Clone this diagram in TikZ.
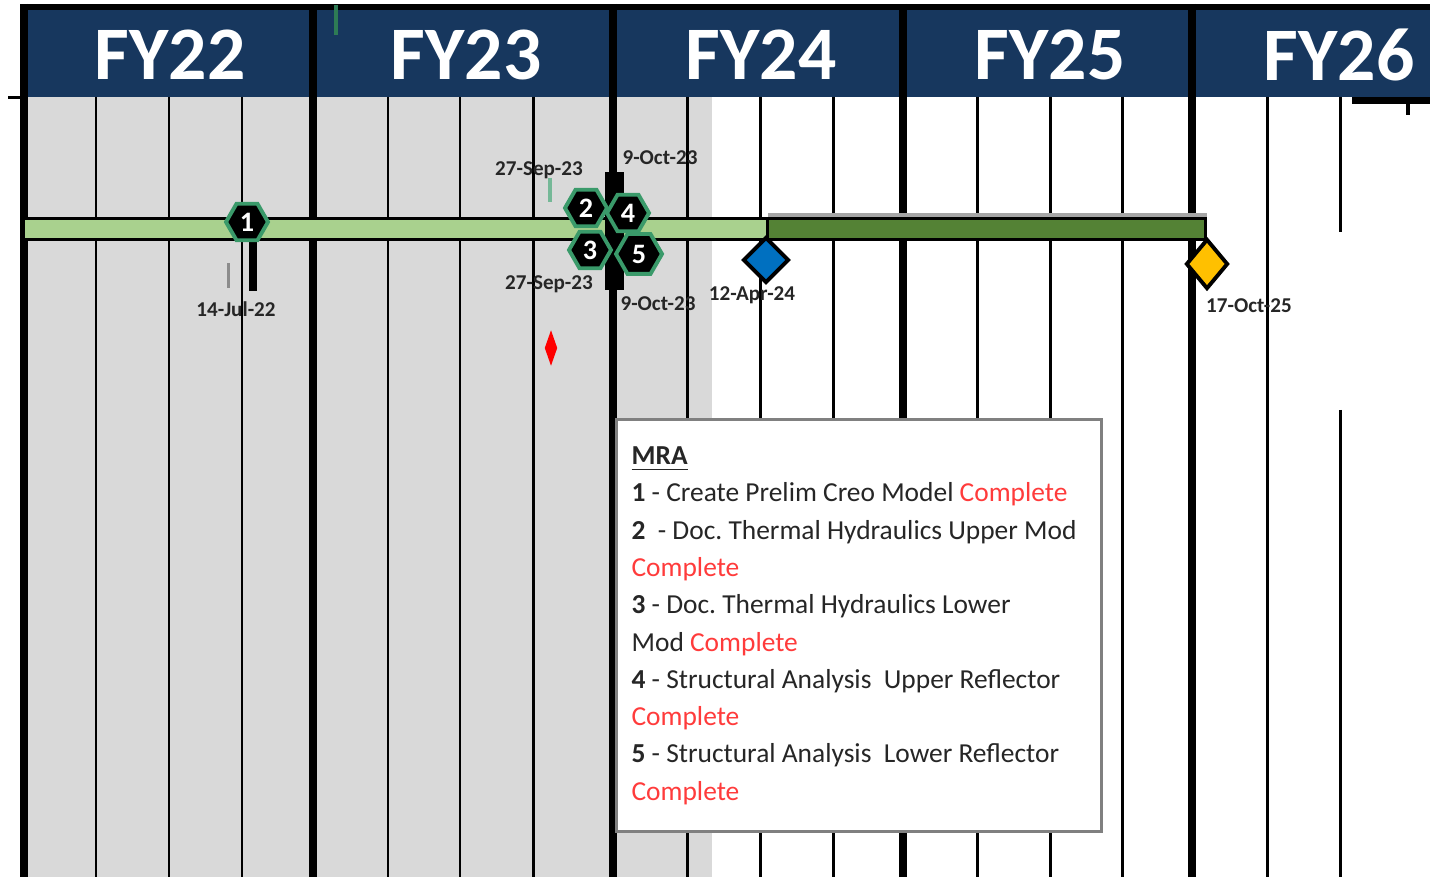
\documentclass[tikz,border=0pt]{standalone}
\usepackage{fontspec}
\setmainfont{Carlito}
\usepackage{tikz}
\usetikzlibrary{shapes.geometric}
\usepackage{xcolor}
\definecolor{fyNavy}{HTML}{17375E}
\definecolor{fyGrey}{HTML}{D9D9D9}
\definecolor{barLight}{HTML}{A9D18E}
\definecolor{barDark}{HTML}{548235}
\definecolor{msGreen}{HTML}{3A9A6A}
\definecolor{msBlue}{HTML}{0070C0}
\definecolor{msGold}{HTML}{FFC000}
\definecolor{doneRed}{HTML}{FF3B3B}
\definecolor{lblText}{HTML}{262626}
\frenchspacing
\tikzset{
    fyhead/.style={
        text=white,font=\fontsize{21.5}{22}\selectfont\bfseries
    },
    majorline/.style={line width=2pt,draw=black},
    minorline/.style={line width=0.85pt,draw=black},
    hexmark/.style={
        regular polygon,regular polygon sides=6,fill=black,
        draw=msGreen,line width=1.1pt,text=white,inner sep=0pt,
        minimum size=#1,font=\fontsize{8}{8}\selectfont\bfseries
    },
    hexmark/.default=0.42cm,
    datelbl/.style={
        font=\fontsize{6}{6}\selectfont\bfseries,text=lblText,inner sep=0pt
    },
    gate/.style={
        diamond,draw=black,line width=1.1pt,fill=#1,inner sep=0pt,
        minimum width=0.46cm,minimum height=0.46cm
    },
    gate/.default=msBlue
}

\begin{document}
\begin{tikzpicture}[x=0.01cm,y=-0.01cm]
\useasboundingbox (0,0) rectangle (1445,877);

% shaded past
\fill[fyGrey] (24,97) rectangle (712,877);

% header band
\fill[fyNavy] (24,4) rectangle (1430,97);
\fill[black] (21,4) rectangle (1430,10);

% quarter and year lines
\draw[minorline] (96,97)--(96,877) (169,97)--(169,877) (242,97)--(242,877)
    (388,97)--(388,877) (460,97)--(460,877) (533,97)--(533,877)
    (687,97)--(687,877) (760,97)--(760,877) (833,97)--(833,877)
    (977,97)--(977,877) (1050,97)--(1050,877) (1122,97)--(1122,877)
    (1267,97)--(1267,877) (1340,97)--(1340,232) (1340,410)--(1340,877);
\draw[majorline] (24,4)--(24,877) (313,4)--(313,877) (613,4)--(613,877)
    (903,4)--(903,877) (1192,4)--(1192,877);
\draw[line width=0.8pt] (8,97.5)--(24,97.5);
\fill[black] (1352,97) rectangle (1430,104);
\draw[line width=1pt] (1408,104)--(1408,115);
\draw[msGreen!80!black,line width=1pt] (336,5)--(336,35);

\node[fyhead] (fy22) at (170,55) {FY22};
\node[fyhead] (fy23) at (466,55) {FY23};
\node[fyhead] (fy24) at (761,55) {FY24};
\node[fyhead] (fy25) at (1050,55) {FY25};
\node[fyhead] (fy26) at (1339,55) {FY26};

% schedule bar
\fill[black!35] (768,213) rectangle (1207,219);
\draw[black,line width=0.85pt,fill=barLight] (24,219) rectangle (767,240);
\draw[black,line width=0.85pt,fill=barDark] (767,219) rectangle (1205,240);

% milestone 1
\fill[black!45] (227,263) rectangle (230,288);
\fill[black] (249,238) rectangle (257,291);
\node[hexmark] (m1) at (247,222) {1};
\node[datelbl] (d1) at (236,309) {14-Jul-22};

% milestones 2-5
\fill[black] (605,172) rectangle (624,290);
\draw[msGreen!70,line width=1pt] (550,178)--(550,202);
\node[hexmark] (m2) at (586,208) {2};
\node[hexmark] (m4) at (628,213) {4};
\node[hexmark] (m3) at (590,250) {3};
\node[hexmark=0.46cm] (m5) at (639,254) {5};
\node[datelbl] (d2) at (539,170) {27-Sep-23};
\node[datelbl] (d4) at (660,158) {9-Oct-23};
\node[datelbl] (d3) at (549,284) {27-Sep-23};
\node[datelbl] (d5) at (658,304) {9-Oct-23};

% gates
\node[gate] (g1) at (766,260) {};
\node[gate=msGold,minimum width=0.42cm,minimum height=0.5cm] (g2) at (1207,264) {};
\node[datelbl] (dg1) at (752,295) {12-Apr-24};
\node[datelbl] (dg2) at (1249,306) {17-Oct-25};

\node[diamond,fill=red,inner sep=0pt,minimum width=0.13cm,
minimum height=0.36cm] (now) at (551,348) {};

% legend
\node[
draw=black!50,line width=0.9pt,fill=white,anchor=north west,
text width=4.55cm,inner xsep=0.15cm,minimum height=4.12cm,align=flush left,
font=\fontsize{7.8}{10.6}\selectfont,text=black!85
] (mra) at (615,418)
{
\underline{\textbf{MRA}}\\
\textbf{1} - Create Prelim Creo Model \textcolor{doneRed}{Complete}\\
\textbf{2}\ \ - Doc. Thermal Hydraulics Upper Mod\\
\textcolor{doneRed}{Complete}\\
\textbf{3} - Doc. Thermal Hydraulics Lower\\
Mod \textcolor{doneRed}{Complete}\\
\textbf{4} - Structural Analysis\ \ Upper Reflector\\
\textcolor{doneRed}{Complete}\\
\textbf{5} - Structural Analysis\ \ Lower Reflector\\
\textcolor{doneRed}{Complete}
};

\end{tikzpicture}
\end{document}
